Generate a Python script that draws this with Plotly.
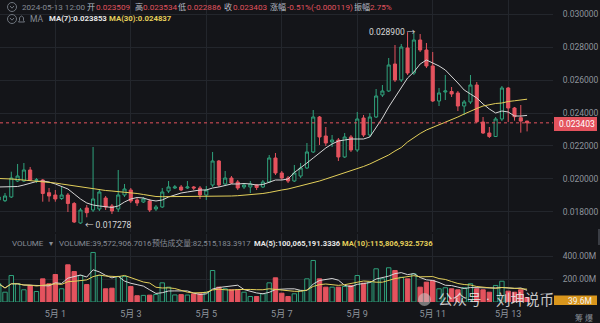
import pandas as pd
import plotly.graph_objects as go

# ---------------- data: 4h candles ----------------
times = pd.date_range("2024-04-29 12:00", periods=85, freq="4h")

opens = [
    0.018727, 0.018685, 0.018909, 0.019878, 0.019878, 0.020546, 0.019909, 0.019939, 0.019169, 0.019030,
    0.018818, 0.019030, 0.018515, 0.017333, 0.018242, 0.018121, 0.018182, 0.018848, 0.018364, 0.018182,
    0.019030, 0.019333, 0.018727, 0.018606, 0.018667, 0.018182, 0.018303, 0.019272, 0.019454, 0.019515,
    0.019454, 0.019515, 0.019454, 0.019030, 0.019636, 0.021091, 0.019697, 0.020060, 0.019818, 0.019515,
    0.019515, 0.019636, 0.019515, 0.019818, 0.021273, 0.020364, 0.020060, 0.019878, 0.020181, 0.020667,
    0.021637, 0.023758, 0.022606, 0.022243, 0.022364, 0.021334, 0.022546, 0.021758, 0.023697, 0.022667,
    0.023758, 0.025091, 0.025334, 0.026970, 0.026000, 0.027940, 0.026425, 0.028425, 0.027819, 0.026849,
    0.024728, 0.025273, 0.025303, 0.025213, 0.024424, 0.024667, 0.025697, 0.023455, 0.022788, 0.022576,
    0.023637, 0.025515, 0.024303, 0.023715, 0.023509,
]
highs = [
    0.018969, 0.019151, 0.020443, 0.020910, 0.020970, 0.020728, 0.020060, 0.020000, 0.019454, 0.019333,
    0.019533, 0.019151, 0.018606, 0.018242, 0.018424, 0.021940, 0.019394, 0.018969, 0.018485, 0.020546,
    0.019697, 0.019454, 0.018848, 0.018909, 0.018788, 0.018424, 0.019454, 0.019878, 0.019636, 0.019636,
    0.019878, 0.019575, 0.019575, 0.019575, 0.021637, 0.021152, 0.020485, 0.020181, 0.019939, 0.019757,
    0.019878, 0.019697, 0.019939, 0.021455, 0.021576, 0.020485, 0.020181, 0.020849, 0.020970, 0.022182,
    0.024182, 0.023818, 0.023152, 0.022667, 0.022485, 0.022788, 0.022667, 0.024061, 0.023879, 0.024000,
    0.025455, 0.025697, 0.027334, 0.028122, 0.028182, 0.028900, 0.028849, 0.028788, 0.028243, 0.027698,
    0.025515, 0.026304, 0.025576, 0.025334, 0.024788, 0.026304, 0.025879, 0.023758, 0.023152, 0.023758,
    0.025637, 0.025576, 0.024364, 0.024485, 0.023534,
]
lows = [
    0.018606, 0.018606, 0.018848, 0.019818, 0.019818, 0.019878, 0.019757, 0.018624, 0.018624, 0.018624,
    0.018727, 0.018000, 0.017333, 0.017278, 0.017679, 0.018000, 0.018061, 0.018121, 0.017879, 0.018000,
    0.018909, 0.018545, 0.018364, 0.018545, 0.018000, 0.018061, 0.018242, 0.019151, 0.019394, 0.019272,
    0.019394, 0.019333, 0.018788, 0.018727, 0.019515, 0.019515, 0.019575, 0.019697, 0.019333, 0.019394,
    0.019151, 0.019333, 0.019454, 0.019757, 0.020243, 0.019939, 0.019757, 0.019818, 0.020060, 0.020606,
    0.021576, 0.022061, 0.022000, 0.021940, 0.021091, 0.021273, 0.021637, 0.021637, 0.022546, 0.022546,
    0.023697, 0.024970, 0.025273, 0.025879, 0.025879, 0.026304, 0.026304, 0.027698, 0.026728, 0.024667,
    0.024424, 0.024788, 0.024970, 0.024121, 0.023879, 0.024546, 0.023394, 0.022728, 0.022485, 0.022546,
    0.023515, 0.023455, 0.023534, 0.022806, 0.022886,
]
closes = [
    0.018909, 0.018969, 0.020060, 0.020181, 0.020546, 0.019939, 0.019951, 0.019121, 0.018969, 0.018788,
    0.019030, 0.018515, 0.017394, 0.018121, 0.017957, 0.018788, 0.019212, 0.018303, 0.018061, 0.019030,
    0.019394, 0.018667, 0.018545, 0.018788, 0.018121, 0.018303, 0.019212, 0.019515, 0.019515, 0.019333,
    0.019515, 0.019454, 0.019030, 0.019333, 0.021091, 0.019636, 0.020060, 0.019757, 0.019454, 0.019636,
    0.019697, 0.019485, 0.019818, 0.021273, 0.020364, 0.020060, 0.019878, 0.020364, 0.020667, 0.021637,
    0.023758, 0.022546, 0.022182, 0.022364, 0.021334, 0.022546, 0.021758, 0.023637, 0.022667, 0.023758,
    0.025030, 0.025334, 0.026910, 0.026000, 0.028001, 0.026425, 0.028425, 0.027819, 0.026849, 0.024728,
    0.025213, 0.025334, 0.025152, 0.024424, 0.024667, 0.025697, 0.023473, 0.022788, 0.022576, 0.023637,
    0.025515, 0.024303, 0.023776, 0.023509, 0.023403,
]
ma7 = [
    0.019515, 0.019515, 0.019515, 0.019545, 0.019636, 0.019757, 0.019848, 0.019878, 0.019818, 0.019697,
    0.019545, 0.019394, 0.019091, 0.018788, 0.018545, 0.018424, 0.018364, 0.018303, 0.018273, 0.018364,
    0.018606, 0.018788, 0.018879, 0.018848, 0.018727, 0.018667, 0.018727, 0.018909, 0.019030, 0.019151,
    0.019212, 0.019272, 0.019333, 0.019333, 0.019454, 0.019515, 0.019606, 0.019697, 0.019697, 0.019727,
    0.019697, 0.019636, 0.019666, 0.019818, 0.019939, 0.019939, 0.020000, 0.020394, 0.020667, 0.020970,
    0.021273, 0.021576, 0.021879, 0.022122, 0.022303, 0.022364, 0.022424, 0.022424, 0.022424, 0.022546,
    0.023091, 0.023697, 0.024364, 0.024970, 0.025515, 0.026122, 0.026485, 0.026970, 0.027213, 0.027031,
    0.026849, 0.026607, 0.026243, 0.025818, 0.025394, 0.025152, 0.024910, 0.024546, 0.024243, 0.024000,
    0.024121, 0.024061, 0.023818, 0.023818, 0.023853,
]
ma30 = [
    0.020030, 0.020030, 0.020000, 0.019970, 0.019939, 0.019909, 0.019878, 0.019848, 0.019788, 0.019757,
    0.019697, 0.019636, 0.019575, 0.019515, 0.019454, 0.019394, 0.019333, 0.019303, 0.019272, 0.019242,
    0.019212, 0.019182, 0.019121, 0.019060, 0.019000, 0.018939, 0.018927, 0.018927, 0.018927, 0.018927,
    0.018939, 0.018951, 0.018957, 0.018969, 0.018969, 0.018969, 0.018969, 0.018969, 0.018988, 0.019012,
    0.019030, 0.019060, 0.019121, 0.019182, 0.019272, 0.019333, 0.019394, 0.019485, 0.019575, 0.019666,
    0.019757, 0.019878, 0.020000, 0.020121, 0.020243, 0.020364, 0.020485, 0.020606, 0.020758, 0.020910,
    0.021091, 0.021273, 0.021455, 0.021697, 0.021909, 0.022243, 0.022515, 0.022758, 0.022970, 0.023121,
    0.023273, 0.023455, 0.023576, 0.023758, 0.023939, 0.024121, 0.024273, 0.024424, 0.024515, 0.024576,
    0.024606, 0.024697, 0.024740, 0.024788, 0.024837,
]
# volume in millions
volume_m = [
    160, 86, 232, 160, 107, 145, 92, 203, 160, 241,
    116, 326, 267, 232, 153, 434, 232, 116, 121, 224,
    224, 136, 55, 58, 60, 66, 168, 130, 62, 65,
    61, 72, 72, 86, 276, 130, 116, 107, 107, 86,
    48, 48, 72, 168, 212, 77, 48, 72, 101, 203,
    364, 203, 130, 130, 130, 136, 145, 232, 165, 174,
    291, 203, 300, 276, 217, 203, 247, 130, 174, 189,
    116, 125, 116, 107, 125, 160, 116, 107, 86, 145,
    182, 95, 86, 107, 39.5729,
]

price_ticks = [0.018, 0.020, 0.022, 0.024, 0.026, 0.028, 0.030]
vol_ticks = [200, 400]
vol_tick_text = ["200.00M", "400.00M"]
day_ticks = ["2024-05-01", "2024-05-03", "2024-05-05", "2024-05-07",
             "2024-05-09", "2024-05-11", "2024-05-13"]
day_labels = ["5月 1", "5月 3", "5月 5", "5月 7", "5月 9", "5月 11", "5月 13"]

# ---------------- style ----------------
BG = "#141519"
GRID = "#23262c"
UP = "#2fa27c"
DOWN = "#e4535e"
AXIS_TXT = "#8e949c"
WHITE_LINE = "#d6d6d6"
YELLOW = "#e3cf5a"
FONT = "Roboto, 'Noto Sans CJK SC', sans-serif"

W, H = 600, 323
ML, MR, MT, MB = 0, 47, 0, 21
PW, PH = W - ML - MR, H - MT - MB


def px(x):
    return (x - ML) / PW


def py(y):
    return (H - MB - y) / PH


fig = go.Figure()

fig.add_trace(go.Candlestick(
    x=times, open=opens, high=highs, low=lows, close=closes,
    increasing=dict(line=dict(color=UP, width=1), fillcolor=BG),
    decreasing=dict(line=dict(color=DOWN, width=1), fillcolor=DOWN),
    whiskerwidth=0, showlegend=False, hoverinfo="skip",
    xaxis="x", yaxis="y",
))
fig.add_trace(go.Scatter(x=times, y=ma7, mode="lines", line=dict(color=WHITE_LINE, width=1),
                         showlegend=False, hoverinfo="skip", xaxis="x", yaxis="y"))
fig.add_trace(go.Scatter(x=times, y=ma30, mode="lines", line=dict(color=YELLOW, width=1),
                         showlegend=False, hoverinfo="skip", xaxis="x", yaxis="y"))

# volume pane
is_down = [c < o for o, c in zip(opens, closes)]
fig.add_trace(go.Bar(
    x=times, y=volume_m,
    marker=dict(color=[DOWN if d else BG for d in is_down],
                line=dict(color=[DOWN if d else UP for d in is_down], width=1)),
    showlegend=False, hoverinfo="skip", xaxis="x2", yaxis="y2",
))
vol_s = pd.Series(volume_m)
fig.add_trace(go.Scatter(x=times, y=vol_s.rolling(5, min_periods=1).mean(), mode="lines",
                         line=dict(color=WHITE_LINE, width=1), showlegend=False,
                         hoverinfo="skip", xaxis="x2", yaxis="y2"))
fig.add_trace(go.Scatter(x=times, y=vol_s.rolling(10, min_periods=1).mean(), mode="lines",
                         line=dict(color=YELLOW, width=1), showlegend=False,
                         hoverinfo="skip", xaxis="x2", yaxis="y2"))

x_range = ["2024-04-29 12:49", "2024-05-14 04:29"]

fig.update_layout(
    width=W, height=H,
    margin=dict(l=ML, r=MR, t=MT, b=MB, pad=0),
    paper_bgcolor=BG, plot_bgcolor=BG,
    bargap=0.3, hovermode=False,
    font=dict(family=FONT, color=AXIS_TXT, size=9),
    xaxis=dict(domain=[0, 1], anchor="y", type="date", range=x_range,
               rangeslider=dict(visible=False), showticklabels=False,
               tickvals=day_ticks, showgrid=True, gridcolor=GRID, gridwidth=1,
               zeroline=False, showline=False),
    yaxis=dict(domain=[py(232), 1], anchor="x", side="right",
               range=[0.016787, 0.030849], tickvals=price_ticks,
               ticktext=[f"{v:.6f}" for v in price_ticks],
               ticks="outside", ticklen=7, tickcolor="rgba(0,0,0,0)",
               tickfont=dict(size=8.5, color=AXIS_TXT),
               showgrid=True, gridcolor=GRID, zeroline=False, showline=False),
    xaxis2=dict(domain=[0, 1], anchor="y2", type="date", matches="x", range=x_range,
                tickvals=day_ticks, ticktext=day_labels,
                ticks="outside", ticklen=3, tickcolor="rgba(0,0,0,0)",
                tickfont=dict(size=9, color=AXIS_TXT),
                showgrid=True, gridcolor=GRID, zeroline=False, showline=False),
    yaxis2=dict(domain=[0, py(234)], anchor="x2", side="right", range=[0, 596],
                tickvals=vol_ticks, ticktext=vol_tick_text,
                ticks="outside", ticklen=7, tickcolor="rgba(0,0,0,0)",
                tickfont=dict(size=8.5, color=AXIS_TXT),
                showgrid=True, gridcolor=GRID, zeroline=False, showline=False),
)

# last-price dashed line and its tag
last = closes[-1]
shapes = [
    dict(type="line", xref="paper", yref="y", x0=0, x1=1, y0=last, y1=last,
         line=dict(color=DOWN, width=1, dash="3px,3px")),
    dict(type="rect", xref="paper", yref="paper", x0=px(554), x1=px(597),
         y0=py(131), y1=py(117), fillcolor=DOWN, line=dict(width=0)),
    dict(type="rect", xref="paper", yref="paper", x0=px(554), x1=px(597),
         y0=py(305), y1=py(295.5), fillcolor="#d9961c", line=dict(width=0)),
    dict(type="rect", xref="paper", yref="paper", x0=px(598), x1=px(600),
         y0=py(245), y1=py(229), fillcolor="#3a3d44", line=dict(width=0)),
]
# header toggle icons
for cy in (7, 19):
    shapes.append(dict(type="circle", xref="paper", yref="paper",
                       x0=px(7.5), x1=px(16.5), y0=py(cy + 4.5), y1=py(cy - 4.5),
                       line=dict(color="#6f757e", width=1)))
    shapes.append(dict(type="path", xref="paper", yref="paper",
                       path=f"M {px(10)} {py(cy - 1)} L {px(12)} {py(cy + 1.2)} L {px(14)} {py(cy - 1)}",
                       line=dict(color="#6f757e", width=1)))
# small bell next to "MA"
shapes.append(dict(type="path", xref="paper", yref="paper",
                   path=(f"M {px(18.5)} {py(22)} L {px(19.5)} {py(20.5)} L {px(19.5)} {py(17.5)} "
                         f"Q {px(21.5)} {py(14.5)} {px(23.5)} {py(17.5)} L {px(23.5)} {py(20.5)} "
                         f"L {px(24.5)} {py(22)} Z"),
                   line=dict(color="#6f757e", width=1)))
# watermark logo
shapes.append(dict(type="circle", xref="paper", yref="paper",
                   x0=px(418), x1=px(431), y0=py(306), y1=py(293),
                   fillcolor="rgba(200,200,200,0.55)", line=dict(width=0)))
fig.update_layout(shapes=shapes)


def label(x, y, text, color, size=8, anchor="left", family=FONT, opacity=1.0):
    return dict(x=px(x), y=py(y), xref="paper", yref="paper", text=text,
                showarrow=False, xanchor=anchor, yanchor="middle",
                font=dict(family=family, size=size, color=color), opacity=opacity)


GREY_TXT = "#868c95"
LIGHT_TXT = "#b9bec6"
RED_TXT = "#e0535e"
WM = "rgba(235,235,235,0.85)"
H1 = 8.1
ann = [
    label(20, 7, "2024-05-13 12:00", GREY_TXT, H1),
    label(85, 7, "开", LIGHT_TXT, H1), label(94, 7, "0.023509", RED_TXT, H1),
    label(133, 7, "高", LIGHT_TXT, H1), label(141, 7, "0.023534", RED_TXT, H1),
    label(176, 7, "低", LIGHT_TXT, H1), label(185, 7, "0.022886", RED_TXT, H1),
    label(222, 7, "收", LIGHT_TXT, H1), label(231, 7, "0.023403", RED_TXT, H1),
    label(268, 7, "涨幅", LIGHT_TXT, H1), label(285, 7, "-0.51%(-0.000119)", RED_TXT, H1),
    label(352, 7, "振幅", LIGHT_TXT, H1), label(368, 7, "2.75%", RED_TXT, H1),
    label(28, 19, "MA", GREY_TXT, 8.5),
    label(47, 19, "<b>MA(7):0.023853</b>", "#e6e6e6", 7.8),
    label(107, 19, "<b>MA(30):0.024837</b>", YELLOW, 7.8),
    label(10, 243, "VOLUME", GREY_TXT, 8),
    label(47, 243, "▾", GREY_TXT, 8),
    label(57, 243, "VOLUME:39,572,906.7016", GREY_TXT, 8),
    label(150, 243, "预估成交量:82,515,183.3917", GREY_TXT, 7.8),
    label(252, 243, "<b>MA(5):100,065,191.3336</b>", "#e6e6e6", 7.6),
    label(340, 243, "<b>MA(10):115,806,932.5736</b>", YELLOW, 7.6),
    label(367, 32, "0.028900 →", "#d8d8d8", 8.5),
    label(83, 225, "← 0.017278", "#d8d8d8", 8.5),
    label(557, 124, "0.023403", "#ffffff", 8.5),
    label(594, 300.5, "39.6M", "#f2f2f2", 8.5, anchor="right"),
    label(573, 318, "筹 爆", GREY_TXT, 8),
    label(436, 300, "公众号", WM, 14.5),
    label(484, 300, "·", WM, 14.5),
    label(494, 300, "刘坤说币", WM, 14.5),
]
fig.update_layout(annotations=ann)

fig.write_html("out.html")
